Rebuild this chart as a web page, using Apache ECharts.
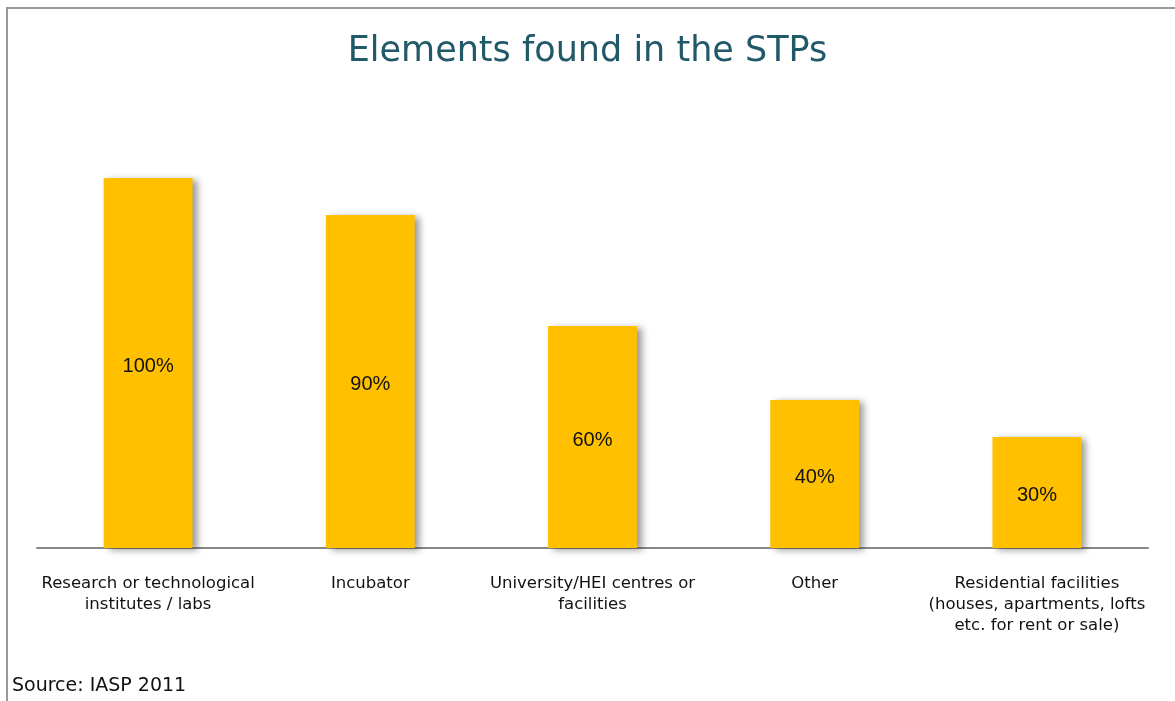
<!DOCTYPE html>
<html>
<head>
<meta charset="utf-8">
<script src="https://cdn.jsdelivr.net/npm/echarts@6/dist/echarts.min.js"></script>
<style>
    html, body { margin: 0; padding: 0; background: #fff; }
    #stp-chart { width: 1175px; height: 701px; }
</style>
</head>
<body>
<div id="stp-chart"></div>
<script>
    // categories and shares (%)
    var categories = [
        'Research or technological\ninstitutes / labs',
        'Incubator',
        'University/HEI centres or\nfacilities',
        'Other',
        'Residential facilities\n(houses, apartments, lofts\netc. for rent or sale)'
    ];
    var shares = [100, 90, 60, 40, 30];

    var chart = echarts.init(document.getElementById('stp-chart'));
    var options = {
        backgroundColor: '#fff',
        animation: false,
        title: {
            text: 'Elements found in the STPs',
            left: 'center',
            top: 29,
            textStyle: {
                color: '#215968',
                fontFamily: 'DejaVu Sans',
                fontWeight: 'normal',
                fontSize: 35
            }
        },
        grid: { left: 37, right: 27, top: 178, bottom: 153 },
        xAxis: {
            type: 'category',
            data: categories,
            axisLine: { show: true, lineStyle: { color: '#888', width: 2 } },
            axisTick: { show: false },
            axisLabel: {
                interval: 0,
                margin: 25,
                color: '#111',
                fontFamily: 'DejaVu Sans',
                fontSize: 16.5,
                lineHeight: 21
            }
        },
        yAxis: { type: 'value', min: 0, max: 100, show: false },
        series: [{
            type: 'bar',
            data: shares,
            barWidth: '40%',
            itemStyle: {
                color: '#FFC000',
                shadowColor: 'rgba(0,0,0,0.4)',
                shadowBlur: 7,
                shadowOffsetX: 5,
                shadowOffsetY: 2
            },
            label: {
                show: true,
                position: 'inside',
                offset: [0, 3],
                formatter: '{c}%',
                color: '#111',
                fontFamily: 'Liberation Sans',
                fontSize: 20
            }
        }],
        graphic: [
            { type: 'line', shape: { x1: 6, y1: 8, x2: 1175, y2: 8 }, style: { stroke: '#999', lineWidth: 2 } },
            { type: 'line', shape: { x1: 7, y1: 8, x2: 7, y2: 701 }, style: { stroke: '#999', lineWidth: 2 } },
            {
                type: 'text', left: 12, top: 677,
                style: { text: 'Source: IASP 2011', fill: '#111', font: '19px "DejaVu Sans"' }
            }
        ]
    };
    chart.setOption(options);
</script>
</body>
</html>
